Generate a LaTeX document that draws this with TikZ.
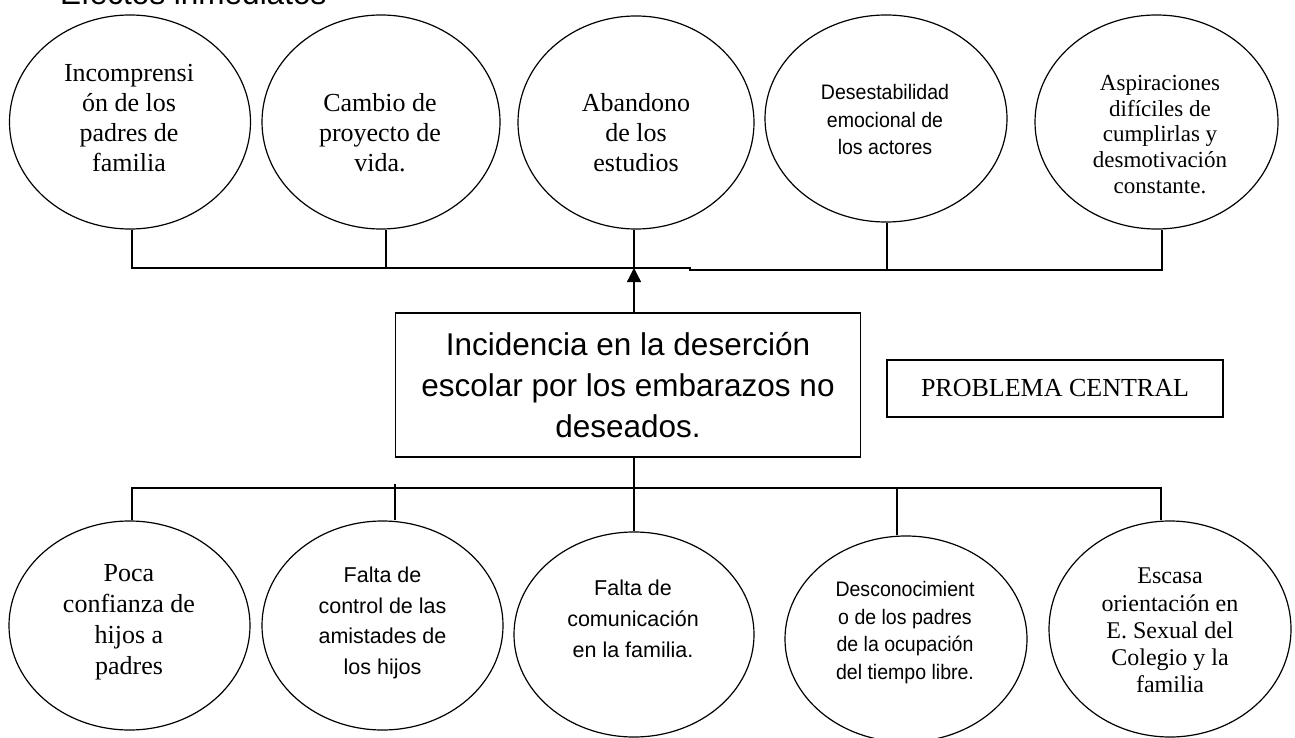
\documentclass[tikz,border=0pt]{standalone}
\usepackage{fontspec}
\setmainfont{Liberation Serif}
\setsansfont{Liberation Sans}
\newfontfamily\narrowsans[FakeStretch=0.93]{Liberation Sans}
\usetikzlibrary{shapes.geometric,arrows.meta}
\begin{document}
\begin{tikzpicture}[x=1pt,y=-1pt,
  oval/.style={draw, ellipse, line width=1.2pt, inner sep=0pt},
  conn/.style={line width=1.3pt},
  lbl/.style={align=center, inner sep=0pt},
  boxed/.style={draw, line width=1.3pt, inner sep=0pt, align=center}
]
\useasboundingbox (0,0) rectangle (1295,738);

% title
\node[anchor=base west, inner sep=0pt, font=\sffamily\fontsize{31.5}{36}\selectfont] (title) at (60,5) {Efectos inmediatos};

% top ellipses (effects)
\node[oval, minimum width=241pt, minimum height=214pt] (T1) at (130,122) {};
\node[oval, minimum width=238pt, minimum height=214pt] (T2) at (381,122) {};
\node[oval, minimum width=236pt, minimum height=213pt] (T3) at (636,122.5) {};
\node[oval, minimum width=242pt, minimum height=207pt] (T4) at (886,118.5) {};
\node[oval, minimum width=243pt, minimum height=214pt] (T5) at (1156.5,122) {};

\node[lbl, font=\fontsize{26}{30}\selectfont] (T1t) at (129,118) {Incomprensi\\ón de los\\padres de\\familia};
\node[lbl, font=\fontsize{26}{30}\selectfont] (T2t) at (380,133) {Cambio de\\proyecto de\\vida.};
\node[lbl, font=\fontsize{26}{30}\selectfont] (T3t) at (636,133) {Abandono\\de los\\estudios};
\node[lbl, font=\narrowsans\fontsize{21}{27.5}\selectfont] (T4t) at (885,119.5) {Desestabilidad\\emocional de\\los actores};
\node[lbl, font=\fontsize{23}{25.8}\selectfont] (T5t) at (1160,134.5) {Aspiraciones\\difíciles de\\cumplirlas y\\desmotivación\\constante.};

% central problem
\node[boxed, minimum width=465pt, minimum height=144pt, font=\sffamily\fontsize{31.5}{41}\selectfont] (C) at (628,385) {Incidencia en la deserción\\escolar por los embarazos no\\deseados.};
\node[boxed, minimum width=336pt, minimum height=57pt, font=\fontsize{26}{30}\selectfont] (P) at (1055,388.5) {PROBLEMA CENTRAL};

% bottom ellipses (causes)
\node[oval, minimum width=241pt, minimum height=209pt] (B1) at (129.5,625.5) {};
\node[oval, minimum width=241pt, minimum height=209pt] (B2) at (382.5,625.5) {};
\node[oval, minimum width=240pt, minimum height=205pt] (B3) at (634,634.5) {};
\node[oval, minimum width=242pt, minimum height=206pt] (B4) at (906,639) {};
\node[oval, minimum width=242pt, minimum height=216pt] (B5) at (1170,629) {};

\node[lbl, font=\fontsize{26}{31}\selectfont] (B1t) at (129,622.5) {Poca\\confianza de\\hijos a\\padres};
\node[lbl, font=\sffamily\fontsize{21.5}{30.5}\selectfont] (B2t) at (382.5,623) {Falta de\\control de las\\amistades de\\los hijos};
\node[lbl, font=\sffamily\fontsize{21.5}{31}\selectfont] (B3t) at (633,619) {Falta de\\comunicación\\en la familia.};
\node[lbl, font=\narrowsans\fontsize{21}{27.8}\selectfont] (B4t) at (905,632.5) {Desconocimient\\o de los padres\\de la ocupación\\del tiempo libre.};
\node[lbl, font=\fontsize{24}{27.2}\selectfont] (B5t) at (1170,630.5) {Escasa\\orientación en\\E. Sexual del\\Colegio y la\\familia};

% top connectors
\coordinate (tb1) at (132,268);
\coordinate (tb2) at (386,268);
\coordinate (tb3) at (634,268);
\coordinate (tbs1) at (690,268);
\coordinate (tbs2) at (690,270);
\coordinate (tb4) at (887,270);
\coordinate (tb5) at (1162,270);
\draw[conn] ([xshift=2pt]T1.south) -- (tb1) -- (tbs1) -- (tbs2) -- (tb5) -- ([xshift=5.5pt]T5.south);
\draw[conn] ([xshift=5pt]T2.south) -- (tb2);
\draw[conn] ([xshift=-2pt]T3.south) -- (tb3);
\draw[conn] ([xshift=1pt]T4.south) -- (tb4);
\draw[conn, -{Triangle[length=14pt,width=14pt]}] ([xshift=6pt]C.north) -- (tb3);

% bottom connectors
\coordinate (bb1) at (132,488);
\coordinate (bb2) at (395,484);
\coordinate (bb4) at (897,488);
\coordinate (bb5) at (1161,488);
\draw[conn] ([xshift=2.5pt]B1.north) -- (bb1) -- (bb5) -- ([xshift=-9pt]B5.north);
\draw[conn] ([xshift=12.5pt]B2.north) -- (bb2);
\draw[conn] ([xshift=6pt]C.south) -- (B3.north);
\draw[conn] ([xshift=-9pt]B4.north) -- (bb4);
\end{tikzpicture}
\end{document}
